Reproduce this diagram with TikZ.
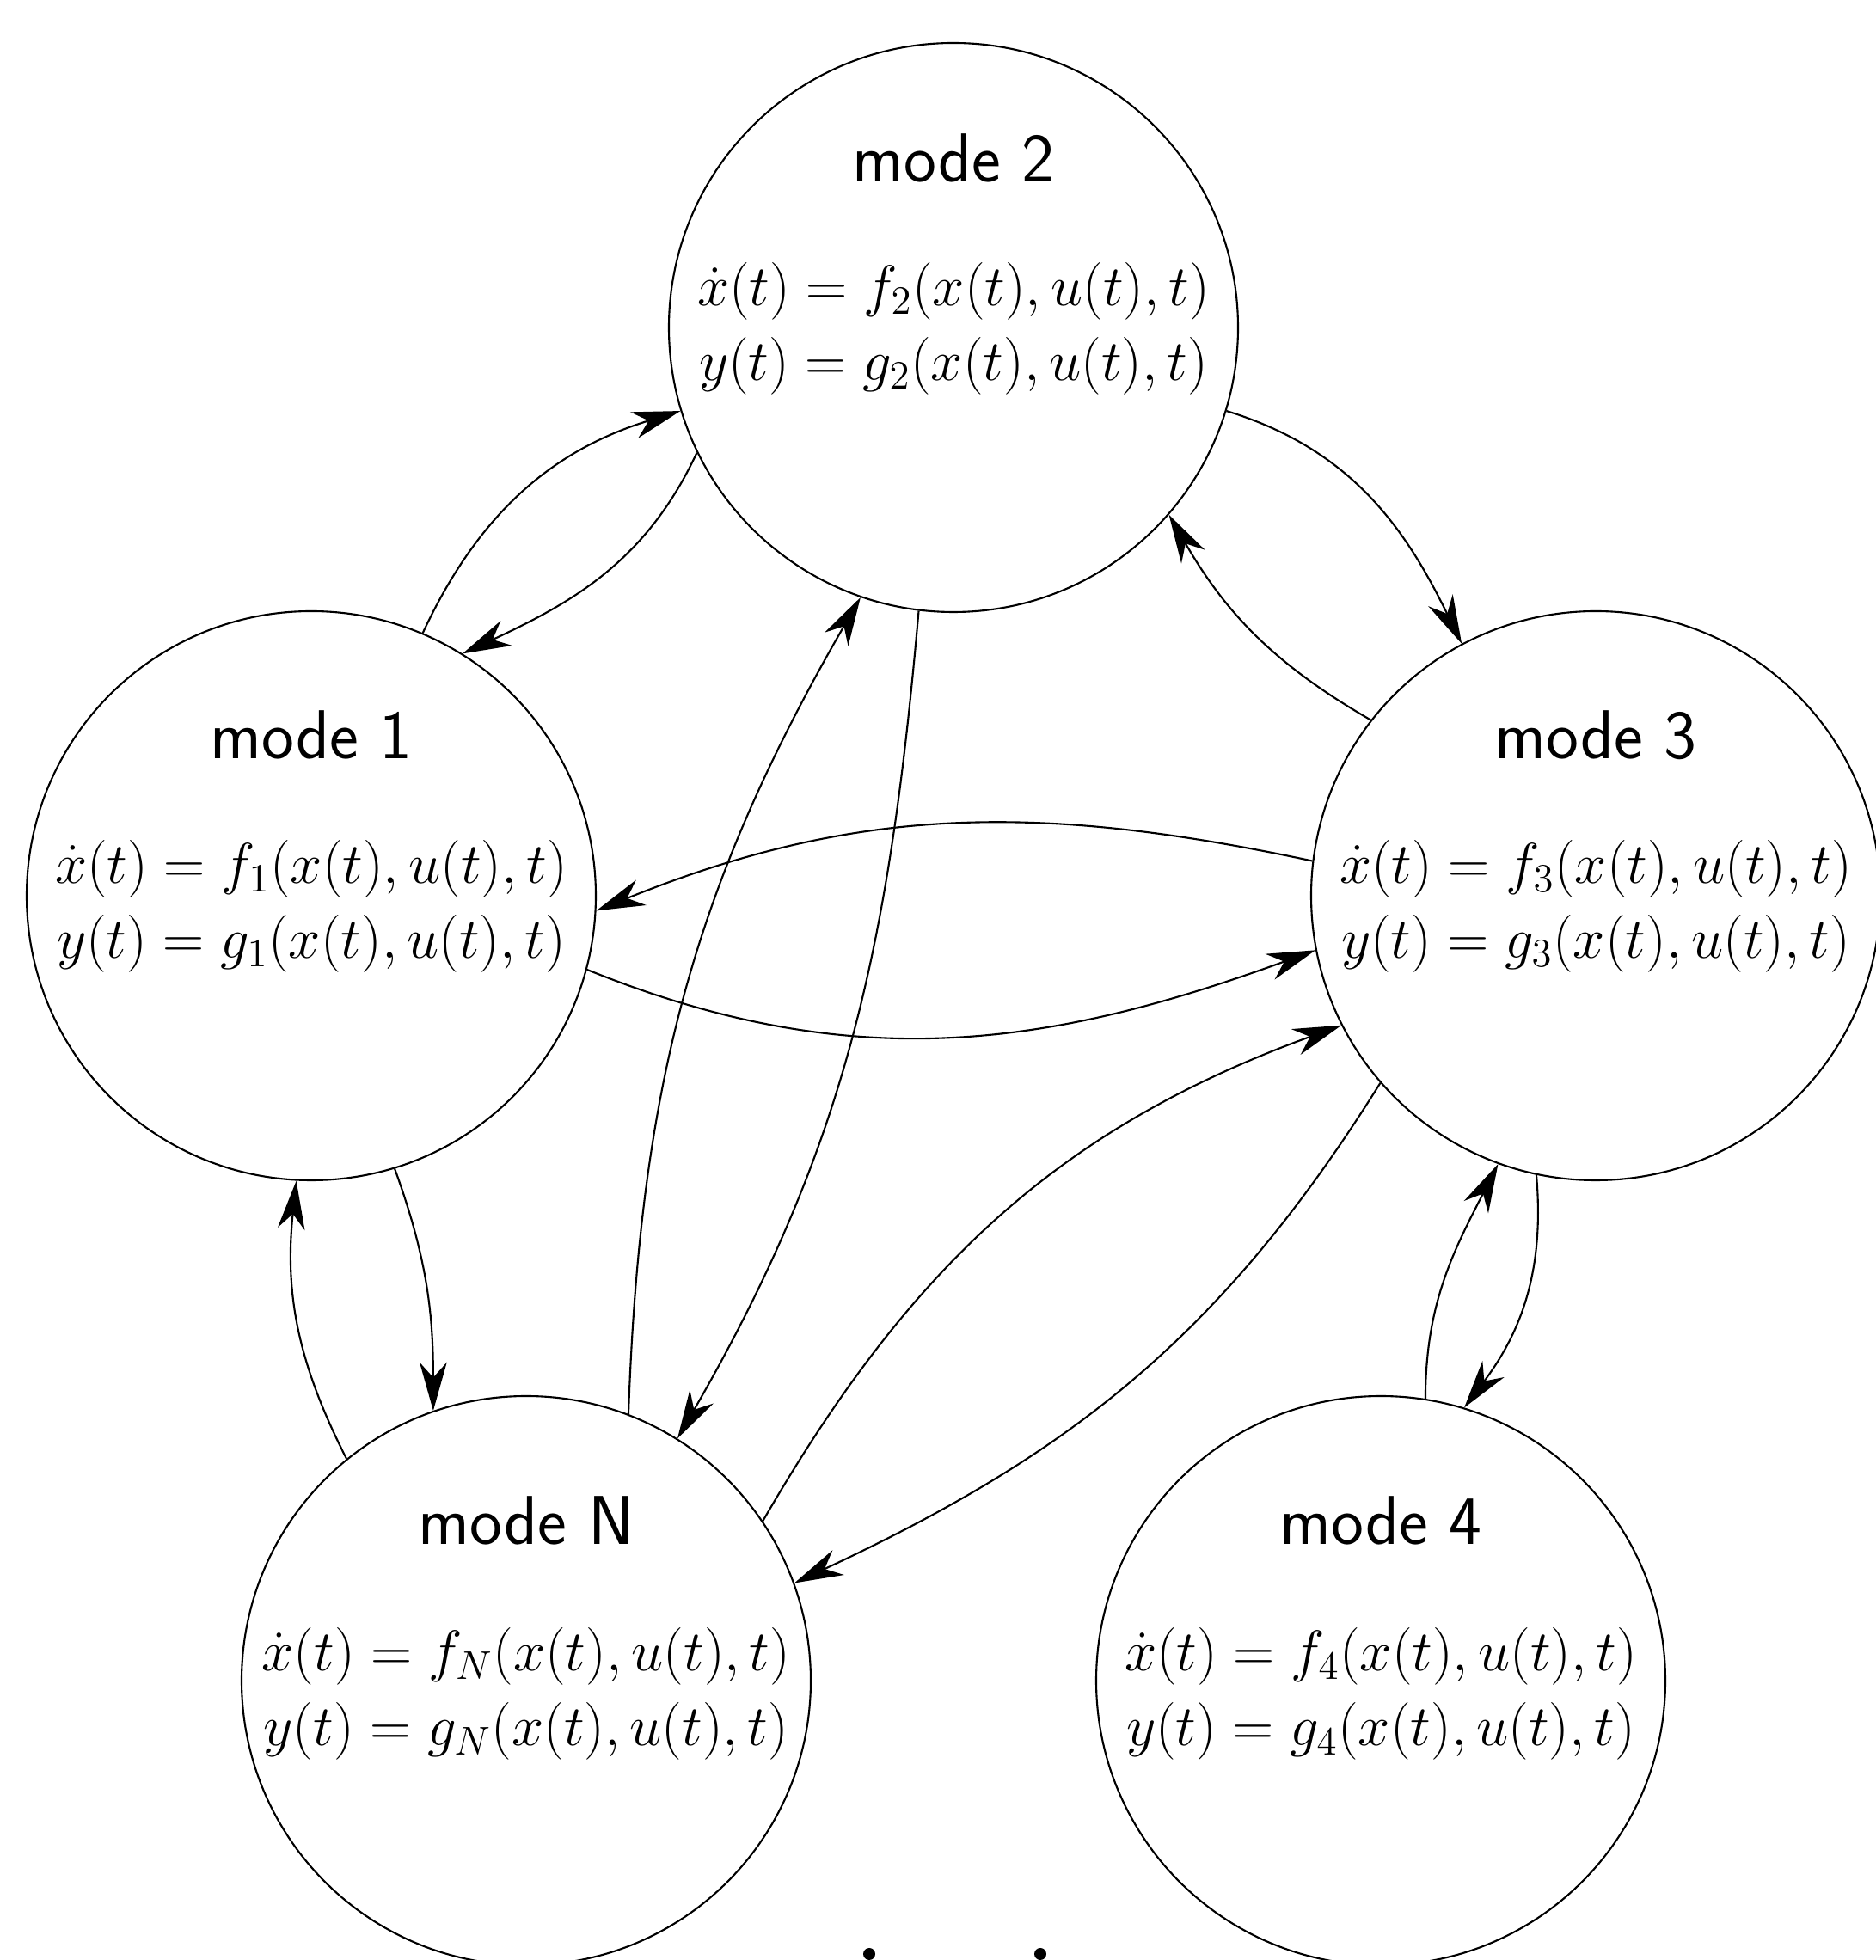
\RequirePackage{fix-cm}
\documentclass[tikz,border=0pt]{standalone}
\usepackage{tikz}
\usetikzlibrary{arrows.meta}
\tikzstyle{modecircle} = [circle, draw=black, minimum size=6.62cm, inner sep=0pt]
\tikzstyle{modename} = [font=\sffamily\fontsize{22.9}{27}\selectfont, anchor=base]
\tikzstyle{modeeqs} = [font=\fontsize{19}{25}\selectfont, align=center, anchor=base]
\tikzstyle{arrow} = [->, >={Stealth[length=16pt, width=9pt, inset=5pt]}]
\tikzstyle{bigdot} = [circle, fill=black, minimum size=0.14cm, inner sep=0pt]

\begin{document}
\begin{tikzpicture}[line width=0.6pt]
      \useasboundingbox (0,0) rectangle (21.82,22.80);

      \node (mode2) [modecircle] at (11.09,18.99) {};
      \node (mode1) [modecircle] at (3.62,12.38) {};
      \node (mode3) [modecircle] at (18.56,12.38) {};
      \node (modeN) [modecircle] at (6.12,3.25) {};
      \node (mode4) [modecircle] at (16.06,3.25) {};

      \node (mode2name) [modename, yshift=1.69cm] at (mode2) {mode 2};
      \node (mode1name) [modename, yshift=1.59cm] at (mode1) {mode 1};
      \node (mode3name) [modename, yshift=1.59cm] at (mode3) {mode 3};
      \node (modeNname) [modename, yshift=1.58cm] at (modeN) {mode N};
      \node (mode4name) [modename, yshift=1.58cm] at (mode4) {mode 4};

      % base of the equations is the second line
      \node (mode2eqs) [modeeqs, yshift=-0.62cm] at (mode2) {$\dot{x}(t) = f_2(x(t),u(t),t)$\\$y(t) = g_2(x(t),u(t),t)$};
      \node (mode1eqs) [modeeqs, yshift=-0.73cm] at (mode1) {$\dot{x}(t) = f_1(x(t),u(t),t)$\\$y(t) = g_1(x(t),u(t),t)$};
      \node (mode3eqs) [modeeqs, yshift=-0.73cm] at (mode3) {$\dot{x}(t) = f_3(x(t),u(t),t)$\\$y(t) = g_3(x(t),u(t),t)$};
      \node (modeNeqs) [modeeqs, yshift=-0.76cm] at (modeN) {$\dot{x}(t) = f_N(x(t),u(t),t)$\\$y(t) = g_N(x(t),u(t),t)$};
      \node (mode4eqs) [modeeqs, yshift=-0.76cm] at (mode4) {$\dot{x}(t) = f_4(x(t),u(t),t)$\\$y(t) = g_4(x(t),u(t),t)$};

      \node (dotA) [bigdot] at (10.11,0.07) {};
      \node (dotB) [bigdot] at (12.10,0.07) {};

      \draw [arrow] (mode1.67) to[out=65, in=197] (mode2.197);
      \draw [arrow] (mode2.206) to[out=245, in=25] (mode1.58);
      \draw [arrow] (mode2.343) to[out=343, in=116] (mode3.118);
      \draw [arrow] (mode3.142) to[out=150, in=300] (mode2.319);
      \draw [arrow] (mode3.173) to[out=168, in=22] (mode1.357);
      \draw [arrow] (mode1.345) to[out=338, in=200] (mode3.191);
      \draw [arrow] (mode2.263) to[out=265, in=60] (modeN.58);
      \draw [arrow] (modeN.69) to[out=88, in=240] (mode2.251);
      \draw [arrow] (modeN.34) to[out=60, in=200] (mode3.207);
      \draw [arrow] (mode3.221) to[out=238, in=25] (modeN.20);
      \draw [arrow] (mode1.287) to[out=290, in=90] (modeN.109);
      \draw [arrow] (modeN.129) to[out=117, in=264] (mode1.267);
      \draw [arrow] (mode3.258) to[out=275, in=53] (mode4.73);
      \draw [arrow] (mode4.81) to[out=90, in=243] (mode3.250);
\end{tikzpicture}
\end{document}
